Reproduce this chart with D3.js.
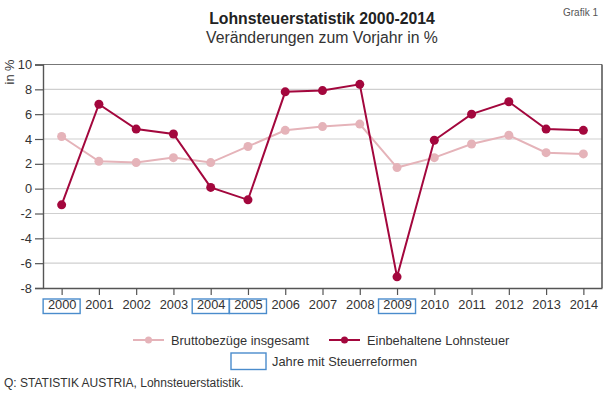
<!DOCTYPE html>
<html><head><meta charset="utf-8">
<script src="https://cdn.jsdelivr.net/npm/d3@7"></script>
<style>body{margin:0;background:#fff}svg{display:block;font-family:"Liberation Sans",Arial,sans-serif}</style>
</head><body>
<script>
const years = ["2000","2001","2002","2003","2004","2005","2006","2007","2008","2009","2010","2011","2012","2013","2014"];
const brutto = [4.2,2.2,2.1,2.5,2.1,3.4,4.7,5.0,5.2,1.7,2.5,3.6,4.3,2.9,2.8];
const lohnsteuer = [-1.3,6.8,4.8,4.4,0.1,-0.9,7.8,7.9,8.4,-7.1,3.9,6.0,7.0,4.8,4.7];
const reformYears = ["2000","2004","2005","2009"];
const yTicks = [-8,-6,-4,-2,0,2,4,6,8,10];

const W=604,H=398;
const svg=d3.select("body").append("svg").attr("width",W).attr("height",H);
const L=43,R=602,T=64.5,B=288;
const x=d3.scalePoint().domain(years).range([L,R]).padding(0.5);
const y=d3.scaleLinear().domain([-8,10]).range([B,T]);

// grid
svg.append("g").selectAll("line").data(yTicks.filter(d=>d>-8&&d<10)).join("line")
 .attr("x1",L).attr("x2",R).attr("y1",d=>y(d)).attr("y2",d=>y(d))
 .attr("stroke","#cfcfcf").attr("stroke-width",1.2);
// top & right border
svg.append("line").attr("x1",L).attr("x2",R).attr("y1",T).attr("y2",T).attr("stroke","#777").attr("stroke-width",1.2);
svg.append("line").attr("x1",R).attr("x2",R).attr("y1",T).attr("y2",B).attr("stroke","#444").attr("stroke-width",1.4);

// y axis
const ya=svg.append("g").attr("transform",`translate(${L},0)`)
 .call(d3.axisLeft(y).tickValues(yTicks).tickFormat(d=>String(d)).tickSize(8).tickPadding(3));
ya.select(".domain").attr("stroke","#555").attr("stroke-width",1.4);
ya.selectAll(".tick line").attr("stroke","#555").attr("stroke-width",1.2);
ya.selectAll("text").attr("font-size",12.8).attr("fill","#333").style("font-family","Liberation Sans, Arial, sans-serif");

// x axis
const xa=svg.append("g").attr("transform",`translate(0,${B})`)
 .call(d3.axisBottom(x).tickSize(7).tickPadding(5).tickSizeOuter(0));
xa.select(".domain").attr("stroke","#555").attr("stroke-width",1.4);
xa.selectAll(".tick line").attr("stroke","#555").attr("stroke-width",1.2);
xa.selectAll("text").attr("font-size",12.8).attr("fill","#333").style("font-family","Liberation Sans, Arial, sans-serif");

// reform boxes
svg.append("g").selectAll("rect").data(reformYears).join("rect")
 .attr("x",d=>x(d)-18.5).attr("y",299).attr("width",37).attr("height",14.5)
 .attr("fill","none").attr("stroke","#4a8ccc").attr("stroke-width",1.4);

const line=d3.line().x((d,i)=>x(years[i])).y(d=>y(d));
const cLight="#e5b3b9", cDark="#a3073d";
function series(data,c){
  svg.append("path").datum(data).attr("d",line).attr("fill","none").attr("stroke",c).attr("stroke-width",2);
  svg.append("g").selectAll("circle").data(data).join("circle")
   .attr("cx",(d,i)=>x(years[i])).attr("cy",d=>y(d)).attr("r",4.5).attr("fill",c);
}
series(brutto,cLight);
series(lohnsteuer,cDark);

// titles
svg.append("text").attr("x",322).attr("y",23.5).attr("text-anchor","middle").attr("font-size",15.8).attr("font-weight","bold").attr("fill","#222").text("Lohnsteuerstatistik 2000-2014");
svg.append("text").attr("x",322).attr("y",43).attr("text-anchor","middle").attr("font-size",15.8).attr("fill","#333").text("Veränderungen zum Vorjahr in %");
svg.append("text").attr("x",598).attr("y",16).attr("text-anchor","end").attr("font-size",10).attr("fill","#555").text("Grafik 1");
svg.append("text").attr("transform","translate(14,72) rotate(-90)").attr("text-anchor","middle").attr("font-size",12.8).attr("fill","#333").text("in %");

// legend
function legItem(x0,c,label){
  svg.append("line").attr("x1",x0).attr("x2",x0+31).attr("y1",340).attr("y2",340).attr("stroke",c).attr("stroke-width",2);
  svg.append("circle").attr("cx",x0+15.5).attr("cy",340).attr("r",3.5).attr("fill",c);
  svg.append("text").attr("x",x0+38).attr("y",344.5).attr("font-size",12.8).attr("fill","#333").text(label);
}
legItem(133,cLight,"Bruttobezüge insgesamt");
legItem(329,cDark,"Einbehaltene Lohnsteuer");
svg.append("rect").attr("x",231).attr("y",353).attr("width",35).attr("height",16.5).attr("fill","none").attr("stroke","#4a8ccc").attr("stroke-width",1.4);
svg.append("text").attr("x",272).attr("y",365.5).attr("font-size",12.8).attr("fill","#333").text("Jahre mit Steuerreformen");
svg.append("text").attr("x",4).attr("y",387).attr("font-size",12).attr("fill","#333").text("Q: STATISTIK AUSTRIA, Lohnsteuerstatistik.");
</script>
</body></html>
